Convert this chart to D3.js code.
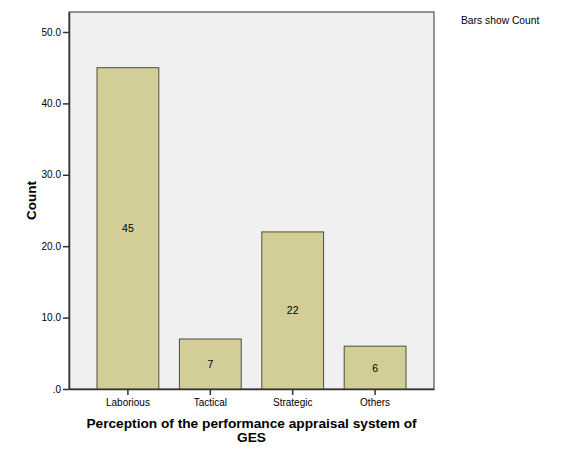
<!DOCTYPE html>
<html>
<head>
<meta charset="utf-8">
<script src="https://cdn.jsdelivr.net/npm/d3@7"></script>
<style>
  body { margin: 0; background: #fff; }
  text { font-family: "Liberation Sans", Arial, sans-serif; fill: #000; }
</style>
</head>
<body>
<script>
// Data
const categories = ['Laborious', 'Tactical', 'Strategic', 'Others'];
const counts = [45, 7, 22, 6];
const yTicks = [0, 10, 20, 30, 40, 50];

const w = 580;
const h = 464;
const plot = { left: 69, top: 12, right: 434, bottom: 389 };
const fontFamily = '"Liberation Sans", Arial, sans-serif';

const xScale = d3
  .scaleBand()
  .domain(categories)
  .range([plot.left, plot.right])
  .paddingInner(0.25)
  .paddingOuter(0.34);

const yScale = d3
  .scaleLinear()
  .domain([0, 52.8])
  .range([plot.bottom, plot.top]);

const svg = d3
  .select('body')
  .append('svg')
  .attr('width', w)
  .attr('height', h);

// Plot background
svg
  .append('rect')
  .attr('x', plot.left)
  .attr('y', plot.top)
  .attr('width', plot.right - plot.left)
  .attr('height', plot.bottom - plot.top)
  .attr('fill', '#f0f0f0')
  .attr('stroke', '#333')
  .attr('stroke-width', 1);

// Bars
const data = categories.map((c, i) => ({ cat: c, value: counts[i] }));

svg
  .selectAll('rect.bar')
  .data(data)
  .enter()
  .append('rect')
  .attr('class', 'bar')
  .attr('x', d => xScale(d.cat))
  .attr('y', d => yScale(d.value))
  .attr('width', xScale.bandwidth())
  .attr('height', d => yScale(0) - yScale(d.value))
  .attr('fill', '#d3ce97')
  .attr('stroke', '#4d4d40')
  .attr('stroke-width', 1);

// Value labels in the middle of each bar
svg
  .selectAll('text.val')
  .data(data)
  .enter()
  .append('text')
  .attr('class', 'val')
  .attr('x', d => xScale(d.cat) + xScale.bandwidth() / 2)
  .attr('y', d => (yScale(d.value) + yScale(0)) / 2 + 4)
  .attr('text-anchor', 'middle')
  .style('font-size', '10.5px')
  .text(d => d.value);

// Y axis
const yAxis = d3
  .axisLeft(yScale)
  .tickValues(yTicks)
  .tickSize(6)
  .tickSizeOuter(0)
  .tickPadding(2)
  .tickFormat(d => (d === 0 ? '.0' : d3.format('.1f')(d)));

svg
  .append('g')
  .attr('transform', `translate(${plot.left},0)`)
  .call(yAxis)
  .call(g => g.select('.domain').attr('stroke', '#333').attr('stroke-width', 1.5))
  .call(g => g.selectAll('.tick line').attr('stroke', '#333').attr('stroke-width', 1.5))
  .call(g => g.selectAll('.tick text').style('font-size', '10px').style('font-family', fontFamily).attr('fill', '#000'));

// X axis
const xAxis = d3.axisBottom(xScale).tickSize(6).tickPadding(4).tickSizeOuter(0);

svg
  .append('g')
  .attr('transform', `translate(0,${plot.bottom})`)
  .call(xAxis)
  .call(g => g.select('.domain').attr('stroke', '#333').attr('stroke-width', 1.5))
  .call(g => g.selectAll('.tick line').attr('stroke', '#333').attr('stroke-width', 1.5))
  .call(g => g.selectAll('.tick text').style('font-size', '10px').style('font-family', fontFamily).attr('fill', '#000'));

// Axis titles
const xTitle = svg
  .append('text')
  .attr('x', (plot.left + plot.right) / 2)
  .attr('y', 428)
  .attr('text-anchor', 'middle')
  .style('font-size', '13.7px')
  .style('font-weight', 'bold');

xTitle.append('tspan').text('Perception of the performance appraisal system of');
xTitle
  .append('tspan')
  .attr('x', (plot.left + plot.right) / 2)
  .attr('dy', 13.5)
  .text('GES');

svg
  .append('text')
  .attr('transform', `translate(36,${(plot.top + plot.bottom) / 2}) rotate(-90)`)
  .attr('text-anchor', 'middle')
  .style('font-size', '13.5px')
  .style('font-weight', 'bold')
  .text('Count');

// Note
svg
  .append('text')
  .attr('x', 461)
  .attr('y', 24)
  .style('font-size', '10.3px')
  .text('Bars show Count');
</script>
</body>
</html>
